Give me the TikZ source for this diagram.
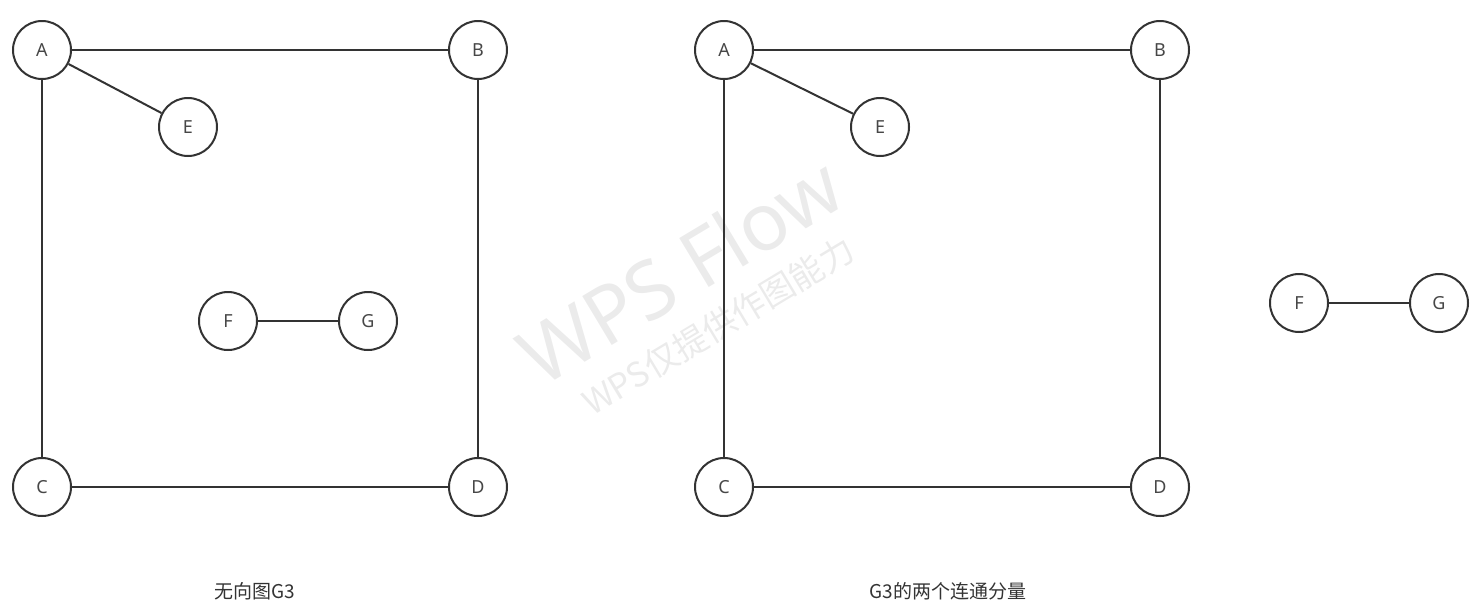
\documentclass[tikz,border=0pt]{standalone}
\usepackage{fontspec}
\setmainfont{Noto Sans}
\newfontfamily\cjk{Noto Sans CJK SC}
\definecolor{ink}{HTML}{333333}
\definecolor{wm}{HTML}{EBEBEB}
\begin{document}
\begin{tikzpicture}[x=1pt,y=-1pt,
  vert/.style={circle,draw=ink,line width=2pt,fill=white,minimum size=58pt,inner sep=0pt,font=\fontsize{18}{20}\selectfont,text=ink!90},
  edge/.style={draw=ink,line width=2pt},
  captext/.style={font=\cjk\fontsize{19}{22}\selectfont,text=ink}]
\useasboundingbox (0,0) rectangle (1480,614);
% watermark
\node[text=wm,rotate=31,font=\fontsize{80}{90}\selectfont] (wm1) at (680,270) {WPS Flow};
\node[text=wm,rotate=31,font=\cjk\fontsize{34}{40}\selectfont,anchor=center] (wm2) at (718,326) {WPS仅提供作图能力};
% left graph
\node[vert] (A1) at (42,50) {A};
\node[vert] (B1) at (478,50) {B};
\node[vert] (E1) at (188,127) {E};
\node[vert] (C1) at (42,487) {C};
\node[vert] (D1) at (478,487) {D};
\node[vert] (F1) at (228,321) {F};
\node[vert] (G1) at (368,321) {G};
\draw[edge] (A1) -- (B1);
\draw[edge] (A1) -- (E1);
\draw[edge] (A1) -- (C1);
\draw[edge] (B1) -- (D1);
\draw[edge] (C1) -- (D1);
\draw[edge] (F1) -- (G1);
% right graph
\node[vert] (A2) at (724,50) {A};
\node[vert] (B2) at (1160,50) {B};
\node[vert] (E2) at (880,127) {E};
\node[vert] (C2) at (724,487) {C};
\node[vert] (D2) at (1160,487) {D};
\node[vert] (F2) at (1299,303) {F};
\node[vert] (G2) at (1439,303) {G};
\draw[edge] (A2) -- (B2);
\draw[edge] (A2) -- (E2);
\draw[edge] (A2) -- (C2);
\draw[edge] (B2) -- (D2);
\draw[edge] (C2) -- (D2);
\draw[edge] (F2) -- (G2);
% captions
\node[captext] (cap1) at (255,591) {无向图G3};
\node[captext] (cap2) at (948,591) {G3的两个连通分量};
\end{tikzpicture}
\end{document}
